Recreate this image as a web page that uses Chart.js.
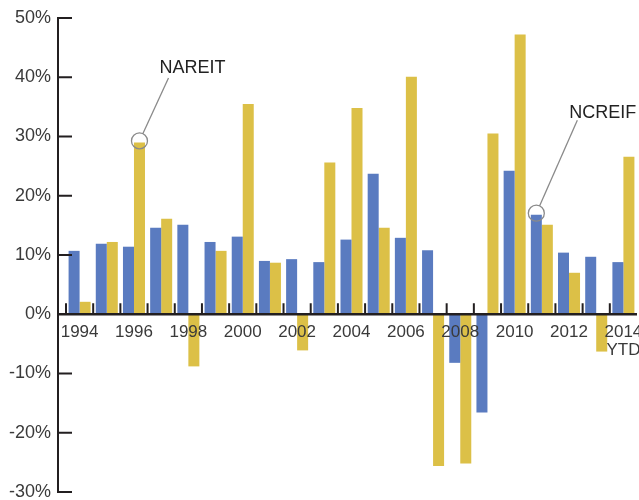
<!DOCTYPE html>
<html lang="en">
<head>
    <meta charset="UTF-8">
    <meta name="viewport" content="width=device-width, initial-scale=1.0">
    <title>NCREIF vs NAREIT annual returns</title>
    <script src="https://cdn.jsdelivr.net/npm/chart.js@4.4.1/dist/chart.umd.min.js"></script>
    <style>
        html, body {
            margin: 0;
            padding: 0;
            background-color: #fff;
        }

        .chart-container {
            width: 639px;
            height: 500px;
        }
    </style>
</head>
<body>
    <div class="chart-container">
        <canvas id="returnsChart"></canvas>
    </div>
    <script>
        // annual total returns, % (2014 is year to date)
        const years = ['1994', '1995', '1996', '1997', '1998', '1999', '2000', '2001', '2002', '2003', '2004',
                       '2005', '2006', '2007', '2008', '2009', '2010', '2011', '2012', '2013', '2014'];
        const ncreif = [10.7, 11.9, 11.4, 14.6, 15.1, 12.2, 13.1, 9.0, 9.3, 8.8, 12.6,
                        23.7, 12.9, 10.8, -8.2, -16.6, 24.2, 16.8, 10.4, 9.7, 8.8];
        const nareit = [2.1, 12.2, 29.0, 16.1, -8.8, 10.7, 35.5, 8.7, -6.1, 25.6, 34.8,
                        14.6, 40.1, -25.6, -25.2, 30.5, 47.2, 15.1, 7.0, -6.3, 26.6];
        const yTicks = [-30, -20, -10, 0, 10, 20, 30, 40, 50];
        const labeledYears = ['1994', '1996', '1998', '2000', '2002', '2004', '2006', '2008', '2010', '2012', '2014'];
        const ytdYear = '2014';

        const axisColor = '#231f20';
        const textColor = '#3a3a3a';

        // callouts: which bar they point at, where the text sits relative to the circle
        const callouts = [
            { dataset: 1, index: years.indexOf('1996'), text: 'NAREIT', dx: 20, dy: -68, lx: 29, ly: -63 },
            { dataset: 0, index: years.indexOf('2011'), text: 'NCREIF', dx: 33, dy: -95, lx: 41, ly: -93 }
        ];

        const axesPlugin = {
            id: 'axesPlugin',
            afterDatasetsDraw(chart) {
                const ctx = chart.ctx;
                const x = chart.scales.x;
                const y = chart.scales.y;
                const axisX = x.left - 8;
                const zeroY = y.getPixelForValue(0);

                ctx.save();
                ctx.strokeStyle = axisColor;
                ctx.lineWidth = 2;
                ctx.lineCap = 'butt';

                // y axis line and its ticks
                ctx.beginPath();
                ctx.moveTo(axisX, y.getPixelForValue(yTicks[yTicks.length - 1]) - 1);
                ctx.lineTo(axisX, y.getPixelForValue(yTicks[0]) + 1);
                yTicks.forEach(v => {
                    if (v === 0) return;
                    const py = y.getPixelForValue(v);
                    ctx.moveTo(axisX, py);
                    ctx.lineTo(axisX + 14, py);
                });
                ctx.stroke();

                // zero line
                ctx.lineWidth = 2.5;
                ctx.beginPath();
                ctx.moveTo(axisX - 1, zeroY);
                ctx.lineTo(x.right, zeroY);
                ctx.stroke();

                // small ticks between years, pointing up
                ctx.lineWidth = 2;
                const step = (x.right - x.left) / years.length;
                ctx.beginPath();
                for (let k = 0; k < years.length; k++) {
                    const px = x.left + k * step;
                    ctx.moveTo(px, zeroY);
                    ctx.lineTo(px, zeroY - 11);
                }
                ctx.stroke();

                // callouts
                ctx.strokeStyle = '#8a8a8a';
                ctx.lineWidth = 1.3;
                ctx.fillStyle = '#222';
                ctx.font = '18px "Liberation Sans", Arial, sans-serif';
                ctx.textAlign = 'left';
                ctx.textBaseline = 'alphabetic';
                callouts.forEach(c => {
                    const bar = chart.getDatasetMeta(c.dataset).data[c.index];
                    const cx = bar.x;
                    const cy = bar.y - 1.5;
                    const r = 8;
                    ctx.beginPath();
                    ctx.arc(cx, cy, r, 0, Math.PI * 2);
                    ctx.stroke();
                    const len = Math.hypot(c.lx, c.ly);
                    ctx.beginPath();
                    ctx.moveTo(cx + c.lx, cy + c.ly);
                    ctx.lineTo(cx + c.lx * r / len, cy + c.ly * r / len);
                    ctx.stroke();
                    ctx.fillText(c.text, cx + c.dx, cy + c.dy);
                });
                ctx.restore();
            }
        };

        const ctx = document.getElementById('returnsChart').getContext('2d');

        const chart = new Chart(ctx, {
            type: 'bar',
            data: {
                labels: years,
                datasets: [{
                    label: 'NCREIF',
                    data: ncreif,
                    backgroundColor: '#5a7bc0',
                    borderWidth: 0
                }, {
                    label: 'NAREIT',
                    data: nareit,
                    backgroundColor: '#dcc047',
                    borderWidth: 0
                }]
            },
            options: {
                responsive: true,
                maintainAspectRatio: false,
                animation: false,
                datasets: {
                    bar: {
                        categoryPercentage: 0.81,
                        barPercentage: 1.0
                    }
                },
                layout: {
                    padding: { top: 18, right: 2, bottom: 8, left: 0 }
                },
                plugins: {
                    legend: { display: false },
                    tooltip: { enabled: false }
                },
                scales: {
                    x: {
                        position: { y: 0 },
                        afterFit: scale => { scale.paddingLeft = 0; scale.paddingRight = 0; },
                        grid: { display: false, drawTicks: false },
                        border: { display: false },
                        ticks: {
                            z: 1,
                            autoSkip: false,
                            maxRotation: 0,
                            padding: 9,
                            color: textColor,
                            font: { family: '"Liberation Sans", Arial, sans-serif', size: 17, lineHeight: 1.08 },
                            callback: function (value) {
                                const year = this.getLabelForValue(value);
                                if (!labeledYears.includes(year)) return '';
                                return year === ytdYear ? [year, 'YTD'] : year;
                            }
                        }
                    },
                    y: {
                        min: yTicks[0],
                        max: yTicks[yTicks.length - 1],
                        afterFit: scale => {
                            scale.width = 66;
                            scale.paddingTop = 0;
                            scale.paddingBottom = 0;
                        },
                        afterBuildTicks: scale => { scale.ticks = yTicks.map(v => ({ value: v })); },
                        grid: { display: false, drawTicks: false },
                        border: { display: false },
                        ticks: {
                            padding: 15,
                            color: textColor,
                            font: { family: '"Liberation Sans", Arial, sans-serif', size: 18 },
                            callback: value => value + '%'
                        }
                    }
                }
            },
            plugins: [axesPlugin]
        });
    </script>
</body>
</html>
